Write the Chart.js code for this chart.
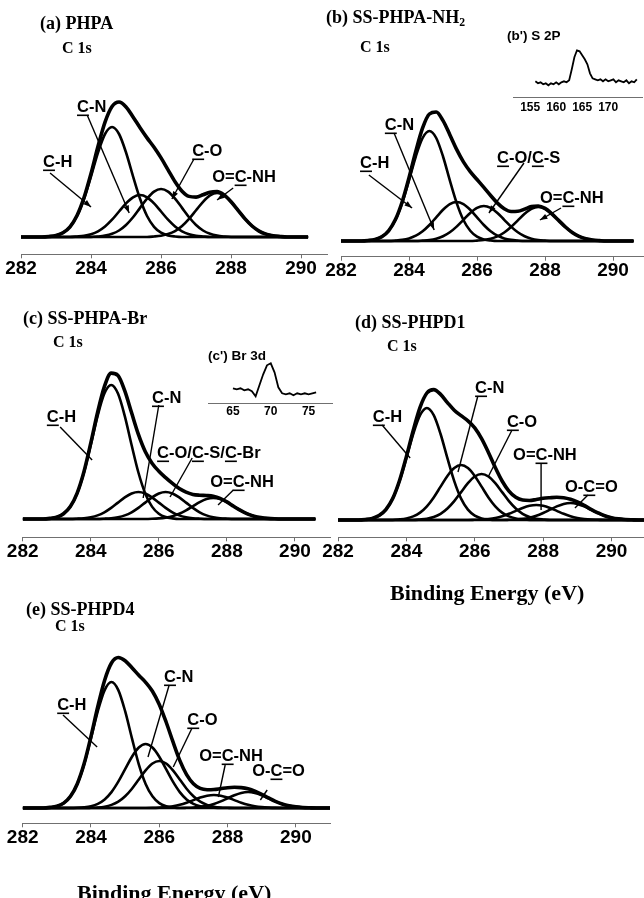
<!DOCTYPE html>
<html>
<head>
<meta charset="utf-8">
<script src="https://cdn.jsdelivr.net/npm/chart.js@4.4.1/dist/chart.umd.min.js"></script>
<style>
  html, body { margin: 0; padding: 0; background: #fff; }
  #fig { position: relative; width: 644px; height: 898px; overflow: hidden; }
  #fig canvas { position: absolute; left: 0; top: 0; }
  .t { position: absolute; white-space: nowrap; line-height: 1; font-weight: bold; color: #000; }
  .serif { font-family: "Liberation Serif", "Times New Roman", serif; }
  .sans { font-family: "Liberation Sans", Arial, sans-serif; }
  .t sub { font-size: 0.65em; vertical-align: -0.25em; line-height: 0; }
</style>
</head>
<body>
<div id="fig">
  <canvas id="pa" width="644" height="898"></canvas>
  <canvas id="pb" width="644" height="898"></canvas>
  <canvas id="pb2" width="644" height="898"></canvas>
  <canvas id="pc" width="644" height="898"></canvas>
  <canvas id="pc2" width="644" height="898"></canvas>
  <canvas id="pd" width="644" height="898"></canvas>
  <canvas id="pe" width="644" height="898"></canvas>

  <div class="t serif" style="left:40px;top:14px;font-size:18px">(a) PHPA</div>
  <div class="t serif" style="left:62px;top:40px;font-size:16px">C 1s</div>
  <div class="t serif" style="left:326px;top:8px;font-size:18px">(b) SS-PHPA-NH<sub>2</sub></div>
  <div class="t serif" style="left:360px;top:39px;font-size:16px">C 1s</div>
  <div class="t sans" style="left:507px;top:29px;font-size:13.5px">(b') S 2P</div>
  <div class="t serif" style="left:23px;top:309px;font-size:18px">(c) SS-PHPA-Br</div>
  <div class="t serif" style="left:53px;top:334px;font-size:16px">C 1s</div>
  <div class="t sans" style="left:208px;top:349px;font-size:13.5px">(c') Br 3d</div>
  <div class="t serif" style="left:355px;top:313px;font-size:18px">(d) SS-PHPD1</div>
  <div class="t serif" style="left:387px;top:338px;font-size:16px">C 1s</div>
  <div class="t serif" style="left:390px;top:582px;font-size:22px">Binding Energy (eV)</div>
  <div class="t serif" style="left:26px;top:600px;font-size:18px">(e) SS-PHPD4</div>
  <div class="t serif" style="left:55px;top:618px;font-size:16px">C 1s</div>
  <div class="t serif" style="left:77px;top:882px;font-size:22px">Binding Energy (eV)</div>
</div>

<script>
// binding energy grid (eV) shared by the C 1s spectra
const energy = [282.0,282.2,282.4,282.6,282.8,283.0,283.2,283.4,283.6,283.8,
                284.0,284.2,284.4,284.6,284.8,285.0,285.2,285.4,285.6,285.8,
                286.0,286.2,286.4,286.6,286.8,287.0,287.2,287.4,287.6,287.8,
                288.0,288.2,288.4,288.6,288.8,289.0,289.2,289.4,289.6,289.8,
                290.0,290.2,290.4,290.6,290.8,291.0];
const c1sTicks = [282, 284, 286, 288, 290];

// (a) PHPA
const aEnvelope = [0,0,0,0,0.5,1.6,4.3,10.2,21.5,39.4, 63.5,90.7,114.9,130.5,135.0,130.1,120.1,109.3,99.1,89.7,
                   79.1,67.2,55.3,45.8,40.6,39.9,42.2,44.8,45.4,42.1, 35.2,26.7,18.1,11.0,5.9,2.9,1.3,0.5,0,0, 0,0];
const aCH   = [0,0,0,0,0.5,1.6,4.3,10.2,21.0,38.2, 60.7,84.5,103.0,110,103.0,84.5,60.7,38.2,21.0,10.2,
               4.3,1.6,0.5,0,0,0,0,0,0,0, 0,0,0,0,0,0,0,0,0,0, 0,0];
const aCN   = [0,0,0,0,0,0,0,0,0.5,1.2, 2.8,5.7,10.5,17.3,25.5,33.6,39.7,42,39.7,33.6,
               25.5,17.3,10.5,5.7,2.8,1.2,0.5,0,0,0, 0,0,0,0,0,0,0,0,0,0, 0,0];
const aCO   = [0,0,0,0,0,0,0,0,0,0, 0,0.5,1.4,3.2,6.5,12.0,19.7,29.1,38.4,45.4,
               48,45.4,38.4,29.1,19.7,12.0,6.5,3.2,1.4,0.5, 0,0,0,0,0,0,0,0,0,0, 0,0];
const aOCNH = [0,0,0,0,0,0,0,0,0,0, 0,0,0,0,0,0,0,0,0,0.5,
               1.3,2.9,5.9,11.0,18.1,26.7,35.2,41.6,44,41.6, 35.2,26.7,18.1,11.0,5.9,2.9,1.3,0.5,0,0, 0,0];

// (b) SS-PHPA-NH2
const bEnvelope = [0,0,0,0,0.5,1.6,4.3,10.2,21.4,39.3, 63.3,89.8,113.1,127.0,129.0,120.4,106.3,91.6,79.1,69.4,
                   61.5,53.6,45.5,37.9,32.3,29.5,29.7,31.9,34.5,35.0, 32.6,27.2,20.6,14.0,8.5,4.6,2.2,1.0,0.4,0, 0,0,0,0];
const bCH   = [0,0,0,0,0.5,1.6,4.3,10.2,21.0,38.2, 60.7,84.5,103.0,110,103.0,84.5,60.7,38.2,21.0,10.2,
               4.3,1.6,0.5,0,0,0,0,0,0,0, 0,0,0,0,0,0,0,0,0,0, 0,0,0,0];
const bCN   = [0,0,0,0,0,0,0,0,0.4,1.1, 2.6,5.3,9.7,16.0,23.7,31.2,36.9,39,36.9,31.2,
               23.7,16.0,9.7,5.3,2.6,1.1,0.4,0,0,0, 0,0,0,0,0,0,0,0,0,0, 0,0,0,0];
const bCOCS = [0,0,0,0,0,0,0,0,0,0, 0,0,0.4,1.0,2.3,4.7,8.7,14.4,21.2,28.0,
               33.1,35,33.1,28.0,21.2,14.4,8.7,4.7,2.3,1.0, 0.4,0,0,0,0,0,0,0,0,0, 0,0,0,0];
const bOCNH = [0,0,0,0,0,0,0,0,0,0, 0,0,0,0,0,0,0,0,0,0,
               0.4,1.0,2.2,4.6,8.5,14.0,20.6,27.2,32.2,34, 32.2,27.2,20.6,14.0,8.5,4.6,2.2,1.0,0.4,0, 0,0,0,0];

// (b') S 2p inset
const s2pEnergy = [156.0,156.5,157.0,157.5,158.0,158.5,159.0,159.5,160.0,160.5,
                   161.0,161.5,162.0,162.5,163.0,163.5,164.0,164.5,165.0,165.5,
                   166.0,166.5,167.0,167.5,168.0,168.5,169.0,169.5,170.0,170.5,
                   171.0,171.5,172.0,172.5,173.0,173.5,174.0,174.5,175.0,175.5];
const s2pCounts = [16,14,15,13,14,12,14,13,15,13, 15,16,15,17,28,40,47,46,42,38,
                   33,24,19,18,17,18,16,18,16,17, 18,15,17,16,15,17,14,16,15,18];
const s2pTicks = [155, 160, 165, 170];

// (c) SS-PHPA-Br
const cEnvelope = [0,0,0,0,0.6,1.9,5.3,12.4,25.9,47.3, 75.8,106.5,132.4,145.9,143.6,128.1,106.2,84.6,67.5,55.8,
                   47.8,41.4,35.6,30.4,26.8,24.6,23.8,23.5,22.8,20.7, 17.1,12.7,8.6,5.2,2.8,1.4,0.6,0.2,0,0, 0,0,0,0];
const cCH   = [0,0,0,0,0.6,1.9,5.3,12.4,25.6,46.5, 74.0,102.9,125.4,134,125.4,102.9,74.0,46.5,25.6,12.4,
               5.3,1.9,0.6,0,0,0,0,0,0,0, 0,0,0,0,0,0,0,0,0,0, 0,0,0,0];
const cCN   = [0,0,0,0,0,0,0,0,0.3,0.8, 1.8,3.6,6.7,11.1,16.4,21.6,25.5,27,25.5,21.6,
               16.4,11.1,6.7,3.6,1.8,0.8,0.3,0,0,0, 0,0,0,0,0,0,0,0,0,0, 0,0,0,0];
const cCOCS = [0,0,0,0,0,0,0,0,0,0, 0,0,0.3,0.8,1.8,3.6,6.7,11.1,16.4,21.6,
               25.5,27,25.5,21.6,16.4,11.1,6.7,3.6,1.8,0.8, 0.3,0,0,0,0,0,0,0,0,0, 0,0,0,0];
const cOCNH = [0,0,0,0,0,0,0,0,0,0, 0,0,0,0,0,0,0,0,0,0.2,
               0.6,1.4,2.8,5.2,8.6,12.7,16.8,19.9,21,19.9, 16.8,12.7,8.6,5.2,2.8,1.4,0.6,0.2,0,0, 0,0,0,0];

// (c') Br 3d inset
const br3dEnergy = [65.0,65.5,66.0,66.5,67.0,67.5,68.0,68.5,69.0,69.5,70.0,70.5,
                    71.0,71.5,72.0,72.5,73.0,73.5,74.0,74.5,75.0,75.5,76.0];
const br3dCounts = [15,14,15,13,14,12,7,18,29,38,40,31, 16,10,9,10,8,10,9,10,9,10,11];
const br3dTicks = [65, 70, 75];

// (d) SS-PHPD1
const dEnvelope = [0,0,0,0,0.5,1.6,4.4,10.4,21.4,39.5, 63.4,89.6,112.7,127.0,130.4,125.6,117.4,109.8,104.3,99.2,
                   92.2,81.4,67.6,52.5,39.0,28.9,22.7,19.9,19.5,20.5, 21.7,22.3,22.7,22.3,20.7,18.1,14.6,10.7,7.2,4.2,
                   2.3,1.1,0.5,0.2,0,0];
const dCH   = [0,0,0,0,0.5,1.6,4.4,10.4,21.4,38.9, 61.8,86.0,104.8,112,104.8,86.0,61.8,38.9,21.4,10.4,
               4.4,1.6,0.5,0,0,0,0,0,0,0, 0,0,0,0,0,0,0,0,0,0, 0,0,0,0,0,0];
const dCN   = [0,0,0,0,0,0,0,0,0,0.6, 1.6,3.6,7.4,13.7,22.6,33.4,44.1,52.0,55,52.0,
               44.1,33.4,22.6,13.7,7.4,3.6,1.6,0.6,0,0, 0,0,0,0,0,0,0,0,0,0, 0,0,0,0,0,0];
const dCO   = [0,0,0,0,0,0,0,0,0,0, 0,0,0.5,1.3,3.0,6.2,11.5,18.9,27.9,36.8,
               43.5,46,43.5,36.8,27.9,18.9,11.5,6.2,3.0,1.3, 0.5,0,0,0,0,0,0,0,0,0, 0,0,0,0,0,0];
const dOCNH = [0,0,0,0,0,0,0,0,0,0, 0,0,0,0,0,0,0,0,0,0,
               0.2,0.4,1.0,2.0,3.7,6.2,9.1,12.0,14.2,15, 14.2,12.0,9.1,6.2,3.7,2.0,1.0,0.4,0.2,0, 0,0,0,0,0,0];
const dOCO  = [0,0,0,0,0,0,0,0,0,0, 0,0,0,0,0,0,0,0,0,0,
               0,0,0,0,0,0.2,0.5,1.1,2.3,4.2, 7.0,10.3,13.6,16.1,17,16.1,13.6,10.3,7.0,4.2, 2.3,1.1,0.5,0.2,0,0];

// (e) SS-PHPD4
const eEnvelope = [0,0,0,0,0.6,1.8,4.9,11.7,24.3,44.4, 71.6,101.5,127.8,145.0,150.5,147.3,140.2,132.7,125.7,116.8,
                   103.6,86.0,66.3,47.6,33.4,24.3,19.6,18.3,18.5,19.4, 20.3,20.7,20.4,19.2,16.9,13.7,10.1,6.7,4.0,2.2,
                   1.1,0.5,0.2,0,0,0];
const eCH   = [0,0,0,0,0.6,1.8,4.9,11.7,24.1,43.7, 69.6,96.8,117.9,126,117.9,96.8,69.6,43.7,24.1,11.7,
               4.9,1.8,0.6,0,0,0,0,0,0,0, 0,0,0,0,0,0,0,0,0,0, 0,0,0,0,0,0];
const eCN   = [0,0,0,0,0,0,0,0,0.2,0.7, 1.8,4.2,8.6,15.9,26.3,38.8,51.3,60.5,64,60.5,
               51.3,38.8,26.3,15.9,8.6,4.2,1.8,0.7,0.2,0, 0,0,0,0,0,0,0,0,0,0, 0,0,0,0,0,0];
const eCO   = [0,0,0,0,0,0,0,0,0,0, 0.2,0.5,1.3,3.1,6.3,11.7,19.3,28.5,37.6,44.5,
               47,44.5,37.6,28.5,19.3,11.7,6.3,3.1,1.3,0.5, 0.2,0,0,0,0,0,0,0,0,0, 0,0,0,0,0,0];
const eOCNH = [0,0,0,0,0,0,0,0,0,0, 0,0,0,0,0,0,0,0,0,0.1,
               0.4,0.9,1.8,3.2,5.3,7.9,10.4,12.3,13,12.3, 10.4,7.9,5.3,3.2,1.8,0.9,0.4,0.1,0,0, 0,0,0,0,0,0];
const eOCO  = [0,0,0,0,0,0,0,0,0,0, 0,0,0,0,0,0,0,0,0,0,
               0,0,0,0,0.2,0.5,1.1,2.2,4.0,6.6, 9.7,12.8,15.1,16,15.1,12.8,9.7,6.6,4.0,2.2, 1.1,0.5,0.2,0,0,0];

// peak labels: text ("_" underlines next char), text anchor, leader start, leader end (eV, intensity)
const aNotes = [
  { text: '_C-H',    at: [282.63, 75],  from: [282.83, 64],  to: [284.00, 30] },
  { text: '_C-N',    at: [283.60, 130], from: [283.89, 122], to: [285.09, 24] },
  { text: '_C-O',    at: [286.89, 86],  from: [286.94, 78],  to: [286.31, 38] },
  { text: 'O=_C-NH', at: [287.46, 60],  from: [288.06, 49],  to: [287.60, 37] }
];
const bNotes = [
  { text: '_C-H',      at: [282.56, 78],  from: [282.82, 66],  to: [284.09, 33] },
  { text: '_C-N',      at: [283.29, 116], from: [283.56, 108], to: [284.74, 11] },
  { text: '_C-O/_C-S', at: [286.59, 83],  from: [287.38, 78],  to: [286.35, 28] },
  { text: 'O=_C-NH',   at: [287.85, 43],  from: [288.47, 33],  to: [287.85, 21] }
];
const cNotes = [
  { text: '_C-H',            at: [282.71, 102], from: [283.10, 92],  to: [284.04, 59] },
  { text: '_C-N',            at: [285.80, 121], from: [286.00, 114], to: [285.54, 21] },
  { text: '_C-O/_C-S/_C-Br', at: [285.95, 66],  from: [286.98, 61],  to: [286.33, 22] },
  { text: 'O=_C-NH',         at: [287.51, 37],  from: [288.19, 29],  to: [287.74, 14] }
];
const dNotes = [
  { text: '_C-H',    at: [283.02, 103], from: [283.29, 95],  to: [284.11, 62] },
  { text: '_C-N',    at: [286.01, 132], from: [286.09, 124], to: [285.51, 48] },
  { text: '_C-O',    at: [286.94, 98],  from: [287.09, 90],  to: [286.39, 43] },
  { text: 'O=_C-NH', at: [287.12, 65],  from: [287.94, 57],  to: [287.94, 10] },
  { text: 'O-_C=O',  at: [288.64, 33],  from: [289.31, 25],  to: [288.93, 12] }
];
const eNotes = [
  { text: '_C-H',    at: [283.01, 103], from: [283.18, 93],  to: [284.18, 61] },
  { text: '_C-N',    at: [286.14, 131], from: [286.29, 123], to: [285.67, 51] },
  { text: '_C-O',    at: [286.82, 88],  from: [286.96, 80],  to: [286.41, 41] },
  { text: 'O=_C-NH', at: [287.17, 52],  from: [287.93, 43],  to: [287.73, 11] },
  { text: 'O-_C=O',  at: [288.72, 37],  from: [289.16, 18],  to: [288.96, 8] }
];

const SANS = '"Liberation Sans", Arial, sans-serif';
const AXIS_GREY = '#707070';

const calloutPlugin = {
  id: 'callouts',
  afterDatasetsDraw(chart, args, opts) {
    const ctx = chart.ctx, x = chart.scales.x, y = chart.scales.y;
    ctx.save();
    ctx.strokeStyle = '#000';
    ctx.fillStyle = '#000';
    ctx.lineWidth = 1.4;
    ctx.font = 'bold 16.5px ' + SANS;
    ctx.textBaseline = 'middle';
    ctx.textAlign = 'left';
    (opts.items || []).forEach(n => {
      const x1 = x.getPixelForValue(n.from[0]), y1 = y.getPixelForValue(n.from[1]);
      const x2 = x.getPixelForValue(n.to[0]), y2 = y.getPixelForValue(n.to[1]);
      ctx.beginPath();
      ctx.moveTo(x1, y1);
      ctx.lineTo(x2, y2);
      ctx.stroke();
      if (opts.arrows) {
        const a = Math.atan2(y2 - y1, x2 - x1);
        ctx.beginPath();
        ctx.moveTo(x2, y2);
        ctx.lineTo(x2 - 8 * Math.cos(a - 0.35), y2 - 8 * Math.sin(a - 0.35));
        ctx.lineTo(x2 - 8 * Math.cos(a + 0.35), y2 - 8 * Math.sin(a + 0.35));
        ctx.closePath();
        ctx.fill();
      }
      let tx = x.getPixelForValue(n.at[0]);
      const ty = y.getPixelForValue(n.at[1]);
      n.text.split(/_(.)/).forEach((part, i) => {
        if (!part) return;
        ctx.fillText(part, tx, ty);
        const w = ctx.measureText(part).width;
        if (i % 2 === 1) ctx.fillRect(tx, ty + 7.5, w, 1.6);
        tx += w;
      });
    });
    ctx.restore();
  }
};

function drawSpectrum(id, o) {
  return new Chart(document.getElementById(id), {
    type: 'line',
    data: {
      datasets: o.series.map(s => ({
        data: s.y.map((v, i) => ({ x: o.xs[i], y: v })),
        borderColor: '#000',
        borderWidth: s.w,
        pointRadius: 0,
        fill: false,
        tension: 0,
        cubicInterpolationMode: o.smooth ? 'monotone' : 'default'
      }))
    },
    options: {
      responsive: false,
      animation: false,
      events: [],
      devicePixelRatio: 1,
      layout: { padding: o.pad },
      plugins: {
        legend: { display: false },
        tooltip: { enabled: false },
        callouts: { items: o.notes || [], arrows: !!o.arrows }
      },
      scales: {
        x: {
          type: 'linear', min: o.x[0], max: o.x[1], bounds: 'data',
          afterBuildTicks: s => { s.ticks = o.ticks.map(v => ({ value: v })); },
          afterFit: s => { s.height = o.axisH; },
          grid: { drawOnChartArea: false, drawTicks: o.tickLen > 0, tickLength: o.tickLen, color: AXIS_GREY, lineWidth: 1 },
          border: { color: AXIS_GREY, width: 1 },
          ticks: { color: '#000', padding: o.tickPad, maxRotation: 0, autoSkip: false,
                   font: { family: SANS, size: o.font, weight: 'bold', lineHeight: 1 } }
        },
        y: { display: false, min: o.y[0], max: o.y[1] }
      }
    },
    plugins: [calloutPlugin]
  });
}

const mainAxis = { xs: energy, ticks: c1sTicks, axisH: 30, tickLen: 4, tickPad: 1, font: 19, smooth: true };
const FIT = 2.6, SUM = 3.6;

drawSpectrum('pa', Object.assign({}, mainAxis, {
  pad: { left: 21, right: 317, top: 60, bottom: 613.7 },
  x: [282, 290.74], y: [-17.3, 177],
  series: [{ y: aCH, w: FIT }, { y: aCN, w: FIT }, { y: aCO, w: FIT }, { y: aOCNH, w: FIT }, { y: aEnvelope, w: SUM }],
  notes: aNotes, arrows: true
}));

drawSpectrum('pb', Object.assign({}, mainAxis, {
  pad: { left: 341, right: 0, top: 60, bottom: 611.3 },
  x: [282, 290.91], y: [-15.7, 181],
  series: [{ y: bCH, w: FIT }, { y: bCN, w: FIT }, { y: bCOCS, w: FIT }, { y: bOCNH, w: FIT }, { y: bEnvelope, w: SUM }],
  notes: bNotes, arrows: true
}));

drawSpectrum('pb2', {
  xs: s2pEnergy, ticks: s2pTicks, axisH: 20, tickLen: 0, tickPad: 4.5, font: 12, smooth: false,
  pad: { left: 513, right: 2, top: 40, bottom: 780.7 },
  x: [151.7, 176.5], y: [0, 57.3],
  series: [{ y: s2pCounts, w: 1.8 }]
});

drawSpectrum('pc', Object.assign({}, mainAxis, {
  pad: { left: 22.7, right: 314, top: 350, bottom: 330.7 },
  x: [282, 291.03], y: [-18.3, 169],
  series: [{ y: cCH, w: FIT }, { y: cCN, w: FIT }, { y: cCOCS, w: FIT }, { y: cOCNH, w: FIT }, { y: cEnvelope, w: SUM }],
  notes: cNotes
}));

drawSpectrum('pc2', {
  xs: br3dEnergy, ticks: br3dTicks, axisH: 20, tickLen: 0, tickPad: 2.4, font: 12, smooth: false,
  pad: { left: 208, right: 312, top: 355, bottom: 474.7 },
  x: [61.7, 78.1], y: [0, 48.3],
  series: [{ y: br3dCounts, w: 1.8 }]
});

drawSpectrum('pd', Object.assign({}, mainAxis, {
  pad: { left: 338, right: 0, top: 350, bottom: 330.7 },
  x: [282, 290.95], y: [-17.3, 170],
  series: [{ y: dCH, w: FIT }, { y: dCN, w: FIT }, { y: dCO, w: FIT }, { y: dOCNH, w: FIT }, { y: dOCO, w: FIT }, { y: dEnvelope, w: SUM }],
  notes: dNotes
}));

drawSpectrum('pe', Object.assign({}, mainAxis, {
  pad: { left: 22.7, right: 314, top: 640, bottom: 44.7 },
  x: [282, 291.0], y: [-15.3, 168],
  series: [{ y: eCH, w: FIT }, { y: eCN, w: FIT }, { y: eCO, w: FIT }, { y: eOCNH, w: FIT }, { y: eOCO, w: FIT }, { y: eEnvelope, w: SUM }],
  notes: eNotes
}));
</script>
</body>
</html>
